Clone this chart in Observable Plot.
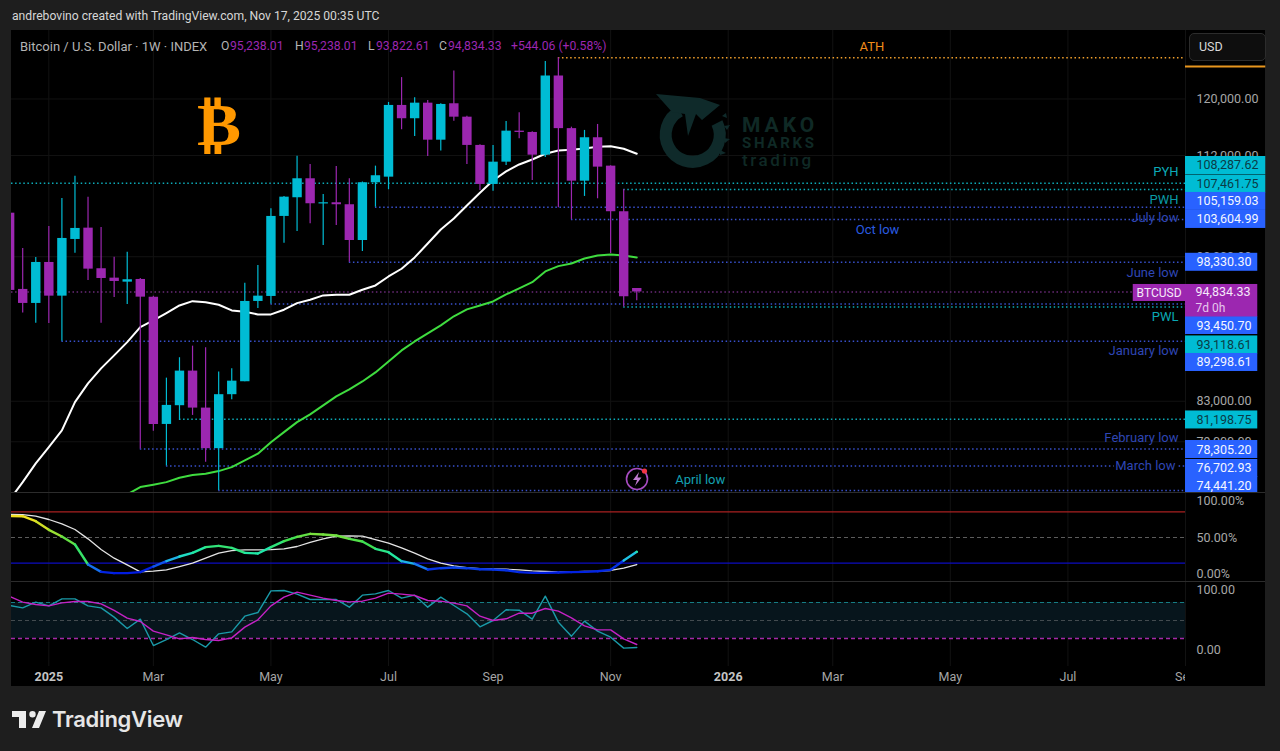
<!DOCTYPE html>
<html><head><meta charset="utf-8">
<script src="https://cdn.jsdelivr.net/npm/d3@7"></script>
<script src="https://cdn.jsdelivr.net/npm/@observablehq/plot@0.6"></script>
<style>
html,body{margin:0;padding:0;background:#1e1e1e;width:1280px;height:751px;overflow:hidden;font-family:Roboto,"Open Sans",sans-serif}
#stage{position:relative;width:1280px;height:751px}
#chart{position:absolute;left:11px;top:30px;width:1254px;height:656px;background:#000}
.pane{position:absolute;left:0}
.pane svg{display:block}
.t{position:absolute;white-space:nowrap;line-height:1}
.sep{position:absolute;left:0;width:1254px;height:1px;background:#2c2c2c}
</style></head><body>
<div id="stage">
  <div class="t" style="left:12px;top:10px;font-size:12.15px;color:#d6d6d6">andrebovino created with TradingView.com, Nov 17, 2025 00:35 UTC</div>
  <div id="chart"></div>
  <div style="position:absolute;left:1185px;top:666px;width:80px;height:20px;background:#000"></div>
  <div id="legend"></div>
  <div class="t" style="left:197px;top:94px;font-family:'DejaVu Sans';font-weight:700;font-size:60px;color:#ff9800;transform:scaleX(1.1);transform-origin:left top">₿</div>
  <svg style="position:absolute;left:650px;top:90px" width="90" height="85" viewBox="0 0 90 85">
    <path d="M30 21 A27 27 0 1 0 67 33" fill="none" stroke="#0f2a2a" stroke-width="12"/>
    <path d="M6 4 L50 8 L70 15 L52 30 L46 24 L38 46 L35 24 L22 22Z" fill="#0f2a2a"/>
    <path d="M72 26 l4 -3 l1 5Z M74 36 l6 -1 l-3 5Z M73 48 l7 1 l-5 4Z M70 60 l6 3 l-6 2Z" fill="#0f2a2a"/>
  </svg>
  <div class="t" style="left:742px;top:115px;font-size:21px;font-weight:700;letter-spacing:4px;color:#0f2925">MAKO</div>
  <div class="t" style="left:742px;top:136px;font-size:15px;font-weight:700;letter-spacing:2.7px;color:#0f2925">SHARKS</div>
  <div class="t" style="left:742px;top:152px;font-size:17px;font-weight:500;letter-spacing:2.6px;color:#0f2925">trading</div>
  <svg style="position:absolute;left:622px;top:464px" width="30" height="30" viewBox="0 0 30 30">
    <circle cx="15" cy="15" r="10.500" fill="none" stroke="#a64bc0" stroke-width="1.6"/>
    <path d="M17 8 L11 16 H15 L13 22 L19.500 13.500 H15.500Z" fill="#c07ad0"/>
    <circle cx="22.500" cy="7" r="2.600" fill="#f23645"/>
  </svg>
  <svg style="position:absolute;left:12px;top:709px" width="36" height="20" viewBox="0 0 36 20">
    <path d="M14 2H0v6h7v11h7V2Zm13 17h-7l7-17h7l-7 17ZM20.500 8.500a3.200 3.200 0 1 0 0-6.400 3.200 3.200 0 0 0 0 6.400Z" fill="#ececec"/>
  </svg>
  <div class="t" style="left:52px;top:708px;font-size:22px;font-weight:600;font-family:Inter,Roboto,sans-serif;letter-spacing:-.3px;color:#e6e6e6">TradingView</div>
</div>
<script>
// ---- weekly candles ----
const weekDates = ["2024-12-16","2024-12-23","2024-12-30","2025-01-06","2025-01-13","2025-01-20","2025-01-27","2025-02-03","2025-02-10","2025-02-17","2025-02-24","2025-03-03","2025-03-10","2025-03-17","2025-03-24","2025-03-31","2025-04-07","2025-04-14","2025-04-21","2025-04-28","2025-05-05","2025-05-12","2025-05-19","2025-05-26","2025-06-02","2025-06-09","2025-06-16","2025-06-23","2025-06-30","2025-07-07","2025-07-14","2025-07-21","2025-07-28","2025-08-04","2025-08-11","2025-08-18","2025-08-25","2025-09-01","2025-09-08","2025-09-15","2025-09-22","2025-09-29","2025-10-06","2025-10-13","2025-10-20","2025-10-27","2025-11-03","2025-11-10","2025-11-17"];
const opens = [104400,95130,93517,98310,94353,101106,102511,97560,96448,95977,96293,94237,80687,82552,86110,82312,78338,83669,85000,93743,94318,103986,106383,108875,105581,105735,105479,100981,108346,109089,119060,117145,119391,114120,119304,117369,113393,108123,111101,115385,115201,112055,123413,115740,108555,114459,110565,104585,95238.01];
const highs = [108287,100005,98914,102724,106291,109223,106461,102599,98951,99554,96406,94350,85374,87526,88772,88600,86006,86362,95861,97953,104967,106550,111918,110793,106815,110525,108875,108450,110565,119492,123173,120180,119780,119300,124163,117500,113500,113393,116753,118009,115300,125618,126198,115949,115488,116330,110600,107462,95238.01];
const lows = [92200,92421,91298,91265,89299,99432,96174,91298,94202,93404,78305,80030,76703,81079,81579,77062,74441,83154,85000,92952,93451,100652,102099,103061,100371,102849,98330,99640,105159,107429,115583,114638,111886,112612,116795,110793,107337,107245,110659,114318,108647,111740,105100,103605,106553,106252,99389,93119,93822.61];
const closes = [95014,93517,98310,94353,101231,102474,97513,96406,96058,96257,94237,80687,82582,86110,82312,78338,83669,85061,93743,94353,103986,106461,108875,105607,105735,105479,100981,108346,109277,119060,117145,119391,114120,119204,117369,113393,108123,111101,115385,115201,112055,123413,115740,108555,114459,110431,104585,94290,94834.33];
// ---- moving averages ----
const whiteAvg = [73600,75205,76941,78490,80099,82912,84824,86394,87774,89204,90858,91595,92421,93291,93777,93664,93370,92726,92579,92274,92274,92805,93551,93937,94436,94517,94517,95095,95594,96644,97560,98914,100615,102349,103730,105389,107038,108647,109853,110793,111466,112248,112700,112796,112974,113207,113289,112933,112248];
const greenAvg = [null,null,null,null,null,null,null,null,null,74090,74750,74969,75205,75611,75853,75983,76225,76597,77220,77856,78960,79932,80912,81679,82582,83494,84206,85030,85974,87126,88308,89280,90165,91045,92065,92839,93291,93743,94552,95246,95977,97239,97870,98191,98792,99158,99280,99158,98914];
// ---- upper oscillator (percent) ----
const oscFast = [80,79.6,72.7,60.6,51.4,40.3,12.5,2.3,0.5,0.5,1.9,9.7,17.1,23.6,28.7,36.6,38.4,35.6,28.7,27.8,36.6,44.9,50.9,55.1,54.2,52.8,48.1,44.4,34.3,29.6,17.1,13.4,5.6,7.4,8.3,7.4,6,5.6,4.6,1.9,0.9,0.9,1.4,1.9,2.3,3.2,5.1,18.1,30.1];
const oscSlow = [82,81.9,79.6,75,69,61.1,48.1,33.3,21.3,12,2.3,3.2,5.1,9.7,14.4,21.3,28.2,31.9,32.9,32.9,33.3,34.3,37.5,43.1,48.1,51.9,52.3,51.9,47.2,42.1,35.6,28.2,20.4,14.4,10.6,8.3,6.9,6.5,6,5.1,3.7,2.8,2.3,2.3,2.8,3.2,4.2,7.4,12.5];
// ---- lower oscillator ----
const stochK = [75,71.1,80.6,74.4,86.1,86.1,74.4,71.1,55.6,36.7,52.2,8.3,18.3,29.4,18.3,5.6,27.8,31.1,57.2,63.3,99.4,100,93.9,85,85,85,72.2,92.2,94.4,100,87.2,92.2,72.2,88.9,75,61.1,39.4,50,67.8,67.2,52.2,90.6,47.2,23.9,48.9,32.2,22.2,3.9,5];
const stochD = [90,80.6,76.7,74.4,79.4,81.7,81.7,77.8,66.7,53.9,48.3,32.2,26.1,19.4,21.7,18.3,16.7,21.1,38.9,51.1,74.4,88.9,97.2,92.2,87.2,83.3,81.1,82.2,87.2,95.6,93.9,91.7,83.3,82.2,78.9,74.4,57.2,50,52.8,62.2,62.2,70,65.6,54.4,41.1,34.4,34.4,19.4,10];
// ---- axes ----
const priceTicks = [120000,112000,99000,83000,79000];
const tickDates = ["2025-01-06","2025-03-03","2025-05-05","2025-07-07","2025-09-01","2025-11-03","2026-01-05","2026-03-02","2026-05-04","2026-07-06","2026-09-07"];
const tickLabels = ["2025","Mar","May","Jul","Sep","Nov","2026","Mar","May","Jul","Sep"];
// ---- horizontal levels ----
const levelPrices = [126198,108287.62,107461.75,105159.03,103604.99,98330.30,94834.33,93450.70,93118.61,89298.61,81198.75,78305.20,76702.93,74441.20];
const levelStarts = ["2025-10-06","2024-12-17","2025-11-10","2025-06-30","2025-10-13","2025-06-16","2024-12-17","2025-05-05","2025-11-10","2025-01-13","2025-03-17","2025-02-24","2025-03-10","2025-04-07"];
const levelKinds = ["ath","teal","teal","blue","blue","blue","now","blue","teal","blue","teal","blue","blue","blue"];

const dt = s => new Date(s + "T00:00:00Z");
const domainStart = dt("2024-12-17"), axisStart = dt("2026-09-07"), axisEnd = dt("2026-10-20");
const rows = weekDates.map((d,i)=>({date:dt(d),o:opens[i],h:highs[i],l:lows[i],c:closes[i],white:whiteAvg[i],green:greenAvg[i],fast:oscFast[i],slow:oscSlow[i],k:stochK[i],d:stochD[i]}));
const up = d => d.c >= d.o;
const TEAL="#00bcd4", PURPLE="#9c27b0", BLUE="#2962ff";
const levelColor = {ath:"#f2a02c",teal:"#0cabb8",blue:"#3850cc",now:"#6a2a78"};
const levels = levelPrices.map((p,i)=>({price:p,start:dt(levelStarts[i]),kind:levelKinds[i]}));
const tickTimes = tickDates.map(dt);
const fmt2 = d3.format(",.2f");

const base = {width:1254,marginLeft:0,marginRight:80,marginTop:0,marginBottom:0,
  x:{type:"utc",domain:[domainStart,axisStart],axis:null},
  style:{background:"#000",color:"#a6a6a6",fontFamily:"Roboto,'Open Sans',sans-serif",fontSize:"12px",overflow:"visible"}};
const grid = "#121212";

// tag = coloured price box in the axis gutter; nudge separates the stacked boxes
const tagStyle = {teal:{fill:TEAL,text:"#0b3b46"},blue:{fill:BLUE,text:"#f4f6ff"}};
const tagMarks = (price,kind,nudge,narrow) => [
  Plot.rect([price],{x1:()=>axisStart,x2:()=>axisEnd,y1:d=>d,y2:d=>d,insetTop:-9,insetBottom:-9,insetRight:narrow?8:0,dy:nudge,fill:tagStyle[kind].fill}),
  Plot.text([price],{x:()=>axisStart,y:d=>d,text:d=>fmt2(d),textAnchor:"start",dx:11,dy:nudge,fill:tagStyle[kind].text,fontSize:12.5})
];
const note = (txt,price,nudge,color,opts={}) => Plot.text([price],{x:()=>opts.at?dt(opts.at):axisStart,y:d=>d,text:()=>txt,
  textAnchor:opts.at?"middle":"end",dx:opts.at?0:(opts.dx??-7),dy:nudge,fill:color,fontSize:13,
  ...(opts.knock?{stroke:"#000",strokeWidth:5,paintOrder:"stroke"}:{})});

const main = Plot.plot({...base,height:462,
  y:{type:"log",domain:[74260,130454],range:[462,0],axis:null},
  marks:[
    Plot.gridX(tickTimes,{stroke:grid,strokeOpacity:1}),
    Plot.gridY(priceTicks,{stroke:grid,strokeOpacity:1}),
    Plot.ruleY(levels,{y:"price",x1:"start",x2:()=>axisStart,stroke:d=>levelColor[d.kind],strokeWidth:1.6,strokeDasharray:"1.5 2.6"}),
    Plot.line(rows,{x:"date",y:"white",stroke:"#fff",strokeWidth:2,clip:true}),
    Plot.line(rows,{x:"date",y:"green",stroke:"#3fdc3f",strokeWidth:2,clip:true}),
    Plot.ruleX(rows,{x:"date",y1:"l",y2:"h",stroke:d=>up(d)?TEAL:PURPLE,strokeWidth:1.2,clip:true}),
    Plot.ruleX(rows,{x:"date",y1:"o",y2:"c",stroke:d=>up(d)?TEAL:PURPLE,strokeWidth:9.4,clip:true}),
    Plot.axisY(priceTicks,{anchor:"right",tickSize:0,tickPadding:11,fill:"#a6a6a6",fontSize:12.5,tickFormat:fmt2,label:null}),
    ...tagMarks(108287.62,"teal",-17.7,false),
    ...tagMarks(107461.75,"teal",-5.5,false),
    ...tagMarks(105159.03,"blue",-5.8,false),
    ...tagMarks(103604.99,"blue",0,false),
    ...tagMarks(98330.30,"blue",0,true),
    ...tagMarks(93450.70,"blue",21.5,true),
    ...tagMarks(93118.61,"teal",38,true),
    ...tagMarks(89298.61,"blue",21.2,true),
    ...tagMarks(81198.75,"teal",0.7,true),
    ...tagMarks(78305.20,"blue",0.5,true),
    ...tagMarks(76702.93,"blue",2.5,true),
    ...tagMarks(74441.20,"blue",-5,true),
    // current price box
    Plot.rect([94834.33],{x1:()=>axisStart,x2:()=>axisEnd,y1:d=>d,y2:d=>d,insetTop:-7.5,insetBottom:-25,insetRight:8,fill:PURPLE}),
    Plot.text([94834.33],{x:()=>axisStart,y:d=>d,text:d=>fmt2(d),textAnchor:"start",dx:10,dy:0.5,fill:"#f6e9fa",fontSize:12.5}),
    Plot.text([94834.33],{x:()=>axisStart,y:d=>d,text:()=>"7d 0h",textAnchor:"start",dx:10,dy:16,fill:"#e6c8ee",fontSize:12}),
    Plot.rect([94834.33],{x1:()=>dt("2026-08-10"),x2:()=>axisStart,y1:d=>d,y2:d=>d,insetTop:-7.5,insetBottom:-9.5,fill:PURPLE}),
    Plot.text([94834.33],{x:()=>axisStart,y:d=>d,text:()=>"BTCUSD",textAnchor:"end",dx:-4,dy:1,fill:"#f6e9fa",fontSize:12}),
    // ATH stub in the gutter, under the currency button
    Plot.ruleY([124850],{x1:()=>axisStart,x2:()=>axisEnd,stroke:"#e8961e",strokeWidth:2}),
    // level notes
    note("ATH",126198,-11,"#f08c1a",{at:"2026-03-23"}),
    note("PYH",108287.62,-11,"#0cabb8"),
    note("PWH",107461.75,10,"#0a9aa6"),
    note("July low",105159.03,11,"#2f46b4"),
    note("Oct low",103604.99,10,"#2a5ce0",{at:"2026-03-26"}),
    note("June low",98330.30,10.5,"#2f46b4"),
    note("PWL",93118.61,10,"#0aa8b4"),
    note("January low",89298.61,10,"#2f46b4"),
    note("February low",78305.20,-11,"#2f46b4"),
    note("March low",76702.93,0,"#2f46b4",{dx:-10,knock:true}),
    note("April low",74441.20,-11,"#14a0b0",{at:"2025-12-21"})
  ]});

const oscColor = {type:"linear",domain:[0,8,14,19,28,45,62,80],range:["#0018e0","#0a40e8","#1a80f0","#20d0e0","#20e8a8","#40e050","#a0e030","#f0e020"]};
const upper = Plot.plot({...base,height:88,color:oscColor,
  y:{domain:[-11.1,111.1],range:[88,0],axis:null},
  marks:[
    Plot.gridX(tickTimes,{stroke:grid,strokeOpacity:1}),
    Plot.ruleY([85.7],{stroke:"#a82020",strokeWidth:1.2}),
    Plot.ruleY([50],{stroke:"#5c5c5c",strokeDasharray:"4 3"}),
    Plot.ruleY([14.3],{stroke:"#0c0cc0",strokeWidth:1.3}),
    Plot.line(rows,{x:"date",y:"slow",stroke:"#e4e4e4",strokeWidth:1.3,clip:true}),
    Plot.line(rows,{x:"date",y:"fast",stroke:"fast",z:null,strokeWidth:2.4,clip:true}),
    Plot.axisY([100,50,0],{anchor:"right",tickSize:0,tickPadding:11,fill:"#a6a6a6",fontSize:12.5,tickFormat:d=>d3.format(".2f")(d)+"%",label:null})
  ]});

const yearTicks = tickTimes.filter((d,i)=>/^\d/.test(tickLabels[i]));
const monthTicks = tickTimes.filter((d,i)=>!/^\d/.test(tickLabels[i]));
const labelFor = d => tickLabels[tickTimes.findIndex(t=>+t===+d)];
const lower = Plot.plot({...base,height:104,marginBottom:20,
  y:{domain:[-26.67,113.33],axis:null},
  marks:[
    Plot.gridX(tickTimes,{stroke:grid,strokeOpacity:1}),
    Plot.rectY([0],{x1:()=>domainStart,x2:()=>axisStart,y1:()=>20,y2:()=>80,fill:"#07151c"}),
    Plot.ruleY([80],{stroke:"#177f86",strokeDasharray:"4 3"}),
    Plot.ruleY([50],{stroke:"#444c50",strokeDasharray:"4 3"}),
    Plot.ruleY([20],{stroke:"#a22aa8",strokeWidth:1.3,strokeDasharray:"4 3"}),
    Plot.line(rows,{x:"date",y:"k",stroke:"#1a9aa8",strokeWidth:1.4,clip:true}),
    Plot.line(rows,{x:"date",y:"d",stroke:"#c422c4",strokeWidth:1.4,clip:true}),
    Plot.axisY([100,0],{anchor:"right",tickSize:0,tickPadding:11,fill:"#a6a6a6",fontSize:12.5,tickFormat:d3.format(".2f"),label:null}),
    Plot.axisX(monthTicks,{anchor:"bottom",tickSize:0,tickPadding:6,fill:"#a6a6a6",fontSize:12.5,tickFormat:labelFor,label:null}),
    Plot.axisX(yearTicks,{anchor:"bottom",tickSize:0,tickPadding:6,fill:"#c4c4c4",fontSize:12.5,fontWeight:700,tickFormat:labelFor,label:null})
  ]});

const chart = document.getElementById("chart");
[[main,0],[upper,463],[lower,552]].forEach(([svg,top])=>{
  const w=document.createElement("div");w.className="pane";w.style.top=top+"px";w.append(svg);chart.append(w);
});
[462,551].forEach(t=>{const s=document.createElement("div");s.className="sep";s.style.top=t+"px";chart.append(s);});

// header legend and currency button
const legendParts = [
  ["Bitcoin / U.S. Dollar · 1W · INDEX",20,"#b4b4b4"],
  ["O",221,"#b4b4b4"],["95,238.01",230,PURPLE],
  ["H",295,"#b4b4b4"],["95,238.01",304,PURPLE],
  ["L",368,"#b4b4b4"],["93,822.61",376,PURPLE],
  ["C",439,"#b4b4b4"],["94,834.33",448,PURPLE],
  ["+544.06 (+0.58%)",511,PURPLE]];
const lg=document.getElementById("legend");
legendParts.forEach(([s,x,c],i)=>{const e=document.createElement("div");e.className="t";e.textContent=s;e.style.cssText=`left:${x}px;top:40px;font-size:${i?12.2:13}px;color:${c}`;lg.append(e);});
const usd=document.createElement("div");usd.style.cssText="position:absolute;left:1189px;top:33px;width:75px;height:26px;border:1px solid #2c2c2c;border-radius:5px;background:#0e0e0e";
const usdT=document.createElement("div");usdT.className="t";usdT.textContent="USD";usdT.style.cssText="left:1199px;top:41px;font-size:12.5px;color:#d8d8d8";
lg.append(usd,usdT);
</script>
</body></html>
